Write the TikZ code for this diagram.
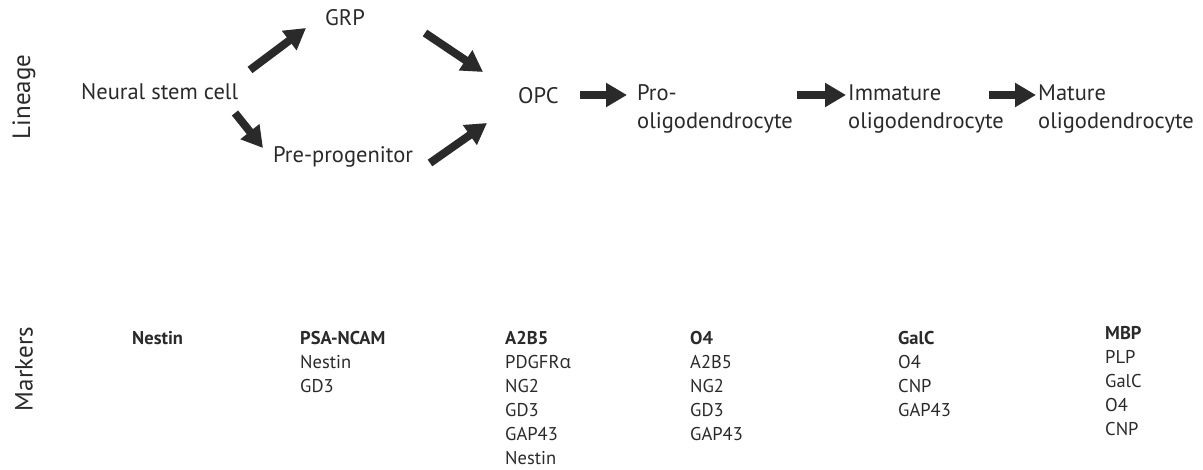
\documentclass[tikz,border=0pt]{standalone}
\usepackage{fontspec}
\setmainfont{PT Sans}
\newfontfamily\altfont{Open Sans}
\usetikzlibrary{arrows.meta}
\definecolor{ink}{HTML}{2A2A2A}
\tikzset{
  lab/.style={font=\fontsize{22.5}{28}\selectfont, text=ink, inner sep=0pt, align=left, anchor=west},
  side/.style={font=\fontsize{25}{30}\selectfont, text=ink, rotate=90, inner sep=0pt},
  mk/.style={font=\fontsize{18.5}{24}\selectfont, text=ink, inner sep=0pt, align=left, anchor=north west},
  blk/.style={draw=ink, line width=8pt, -{Triangle[length=21pt,width=23pt]}}
}
\begin{document}
\begin{tikzpicture}[x=1pt,y=-1pt]
\fill[white] (0,0) rectangle (1203,470);
\useasboundingbox (0,0) rectangle (1203,470);
% side labels
\node[side] (lin) at (24,97) {Lineage};
\node[side] (mrk) at (24,369) {Markers};
% lineage nodes
\node[lab] (nsc) at (81,92) {Neural stem cell};
\node[lab] (grp) at (325,18) {GRP};
\node[lab] (pre) at (273,157) {Pre-progenitor};
\node[lab] (opc) at (518,96) {OPC};
\node[lab] (pro) at (637,109) {Pro-\\oligodendrocyte};
\node[lab] (imm) at (848,109) {Immature\\oligodendrocyte};
\node[lab] (mat) at (1038,109) {Mature\\oligodendrocyte};
% arrow end points
\coordinate (a1s) at (250,70);  \coordinate (a1e) at (306,28);
\coordinate (a2s) at (235,113); \coordinate (a2e) at (263,148);
\coordinate (a3s) at (425,33);  \coordinate (a3e) at (483,72);
\coordinate (a4s) at (430,163); \coordinate (a4e) at (487,123);
\coordinate (a5s) at (580,95);  \coordinate (a5e) at (627,95);
\coordinate (a6s) at (797,95);  \coordinate (a6e) at (846,95);
\coordinate (a7s) at (989,95);  \coordinate (a7e) at (1036,95);
\draw[blk] (a1s) -- (a1e);
\draw[blk] (a2s) -- (a2e);
\draw[blk] (a3s) -- (a3e);
\draw[blk] (a4s) -- (a4e);
\draw[blk] (a5s) -- (a5e);
\draw[blk] (a6s) -- (a6e);
\draw[blk] (a7s) -- (a7e);
% markers
\node[mk] (m1) at (132,331) {\textbf{Nestin}};
\node[mk] (m2) at (300,331) {\textbf{PSA-NCAM}\\Nestin\\GD3};
\node[mk] (m3) at (505,331) {\textbf{A2B5}\\PDGFR{\altfont α}\\NG2\\GD3\\GAP43\\Nestin};
\node[mk] (m4) at (690,331) {\textbf{O4}\\A2B5\\NG2\\GD3\\GAP43};
\node[mk] (m5) at (898,331) {\textbf{GalC}\\O4\\CNP\\GAP43};
\node[mk] (m6) at (1105,326) {\textbf{MBP}\\PLP\\GalC\\O4\\CNP};
\end{tikzpicture}
\end{document}
